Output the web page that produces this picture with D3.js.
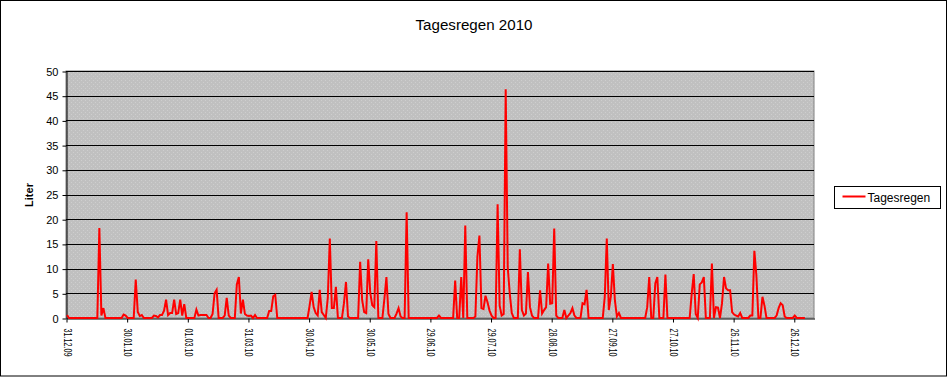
<!DOCTYPE html>
<html>
<head>
<meta charset="utf-8">
<script src="https://cdnjs.cloudflare.com/ajax/libs/d3/7.8.5/d3.min.js"></script>
<style>
  body { margin: 0; background: #fff; }
  svg { display: block; font-family: Arial, "Liberation Sans", sans-serif; }
</style>
</head>
<body>
<svg></svg>
<script>
// Tagesregen in Liter, 31.12.09 und dann Monat fuer Monat
const dec09 = [0.6]
const jan = [0,0,0,0,0,0,0,0,0,0,0,0,0,0,0,18.2,0.5,2.0,0,0,0,0,0,0,0,0,0,0.7,0.5,0,0]
const feb = [0,0,7.8,1.2,0.4,0.6,0,0,0,0,0,0.5,0.4,0.1,0.6,0.6,1.5,3.7,0.6,1.0,1.0,3.7,0.8,1.0,3.7,0.5,2.8,0]
const mar = [0,0,0,0,1.7,0.5,0.6,0.6,0.6,0.6,0,0,0.8,5.0,5.7,0,0,0,0.5,4.1,0.5,0,0,0,6.8,8.3,0.9,3.7,0.8,0.5,0.4]
const apr = [0.5,0,0.6,0,0,0,0,0,0,1.4,1.4,4.4,4.7,0,0,0,0,0,0,0,0,0,0,0,0,0,0,0,0,2.5]
const may = [5.3,2.2,1.0,0.5,5.7,1.2,0.6,0,4.1,16.1,2.0,2.0,6.3,0,0,0,3.0,7.3,0.3,0,0,0,0,0,11.4,3.6,1.2,1.0,11.9,5.1,2.6]
const jun = [2.2,15.6,0,0,0,3.9,8.3,0.8,0,0,0,0.9,2.0,0.3,0,0,21.4,0,0,0,0,0,0,0,0,0,0,0,0,0]
const jul = [0,0,0.5,0,0,0,0,0,0,0,7.6,0,0,8.3,0,18.7,0,0,0,0,0.3,12.4,16.7,2.0,1.8,4.5,3.2,1.5,0.5,0,0]
const aug = [23.0,2.5,0.5,0.8,46.3,10.3,5.0,1.0,0,0,0,13.9,1.6,0.5,0.9,9.3,2.2,0.5,0,0,0,5.6,0.9,1.6,2.2,11.0,2.9,3.0,18.1,0.5,0]
const sep = [0,0,1.6,0,0.5,1.0,2.0,0.5,0,0,0,3.0,2.8,5.7,0,0,0,0,0,0,0,0,4.3,16.1,1.6,4.3,10.9,3.6,0.3,1.0]
const oct = [0,0,0,0,0,0,0,0,0,0,0,0,0,2.2,8.3,0,0,7.0,8.3,0,0,0,8.8,0,0,0,0,0,0,0,0]
const nov = [0,0,0,0,4.9,8.9,0.8,0,6.8,7.2,8.3,0,0,0,11.0,0,2.2,2.1,0,3.0,8.3,6.0,5.6,5.6,1.2,0.7,0.5,0.3,1.0,0]
const dec = [0,0,0,0.5,0.5,13.6,8.6,0,0,4.3,2.5,0,0,0,0,0,0.5,2.0,3.0,2.6,0.3,0,0,0,0,0.5,0,0,0,0,0]

const regen = [].concat(dec09, jan, feb, mar, apr, may, jun, jul, aug, sep, oct, nov, dec)

// Kategorieachse hat 370 Tage (leere Zeilen am Ende), Beschriftung alle 30 Tage
const nCategories = 370
const tickLabels = ['31.12.09','30.01.10','01.03.10','31.03.10','30.04.10','30.05.10','29.06.10',
                    '29.07.10','28.08.10','27.09.10','27.10.10','26.11.10','26.12.10']
const yTicks = [0,5,10,15,20,25,30,35,40,45,50]

const width = 949, height = 378
const plot = {left: 66, right: 814, top: 71, bottom: 318}

const svg = d3.select('svg').attr('width', width).attr('height', height)

// Rahmen vom Diagramm
svg.append('rect')
  .attr('x', 0.5).attr('y', 0.5)
  .attr('width', 946).attr('height', 375.5)
  .attr('fill', '#fff').attr('stroke', '#000')

// Excel-Punktmuster fuer die Zeichnungsflaeche
const pat = svg.append('defs').append('pattern')
  .attr('id', 'dots').attr('width', 4).attr('height', 4)
  .attr('patternUnits', 'userSpaceOnUse')
pat.append('rect').attr('width', 4).attr('height', 4).attr('fill', '#c0c0c0')
pat.append('rect').attr('x', 1).attr('y', 0).attr('width', 1).attr('height', 1).attr('fill', '#cecece')
pat.append('rect').attr('x', 3).attr('y', 2).attr('width', 1).attr('height', 1).attr('fill', '#cecece')

const xScale = d3.scaleLinear().domain([0, nCategories]).range([plot.left, plot.right])
const yScale = d3.scaleLinear().domain([0, 50]).range([plot.bottom, plot.top])

svg.append('rect')
  .attr('x', plot.left).attr('y', plot.top)
  .attr('width', plot.right - plot.left).attr('height', plot.bottom - plot.top)
  .attr('fill', 'url(#dots)').attr('stroke', '#808080')

// Gitternetzlinien
svg.append('g').selectAll('line')
  .data(yTicks.filter(d => d > 0))
  .enter().append('line')
  .attr('x1', plot.left).attr('x2', plot.right)
  .attr('y1', d => Math.round(yScale(d)) + 0.5)
  .attr('y2', d => Math.round(yScale(d)) + 0.5)
  .attr('stroke', '#000')

// y-Achse
const yAxis = d3.axisLeft(yScale).tickValues(yTicks).tickSizeInner(4).tickSizeOuter(0).tickPadding(4)
const yAxisG = svg.append('g')
  .attr('transform', `translate(${plot.left + 0.5},0.5)`)
  .call(yAxis)
yAxisG.select('.domain').attr('stroke', '#000')
yAxisG.selectAll('text').attr('font-size', 11).attr('fill', '#000')
  .attr('font-family', 'Arial, "Liberation Sans", sans-serif')

// x-Achse
const xAxis = d3.axisBottom(xScale)
  .tickValues(d3.range(0, 361, 30))
  .tickFormat((d, i) => tickLabels[i])
  .tickSizeInner(4).tickSizeOuter(0)
const xAxisG = svg.append('g')
  .attr('transform', `translate(0.5,${plot.bottom + 0.5})`)
  .call(xAxis)
xAxisG.select('.domain').attr('stroke', '#000')
xAxisG.selectAll('text')
  .attr('font-size', 10).attr('fill', '#000')
  .attr('font-family', 'Arial, "Liberation Sans", sans-serif')
  .attr('y', 0).attr('x', 0)
  .attr('dy', '0.35em')
  .attr('transform', 'translate(0,10) rotate(90)')
  .attr('text-anchor', 'start')
  .attr('textLength', 28).attr('lengthAdjust', 'spacingAndGlyphs')

// Linie
const line = d3.line()
  .x((d, i) => xScale(i + 0.5))
  .y(d => yScale(d))

svg.append('path')
  .datum(regen)
  .attr('fill', 'none')
  .attr('stroke', '#ff0000')
  .attr('stroke-width', 2)
  .attr('stroke-linejoin', 'miter')
  .attr('d', line)

// Titel
svg.append('text')
  .attr('x', 474).attr('y', 30)
  .attr('text-anchor', 'middle')
  .attr('font-size', 14)
  .attr('textLength', 117).attr('lengthAdjust', 'spacingAndGlyphs')
  .text('Tagesregen 2010')

// Achsentitel
svg.append('text')
  .attr('transform', 'translate(33,195) rotate(-90)')
  .attr('text-anchor', 'middle')
  .attr('font-size', 11).attr('font-weight', 'bold')
  .text('Liter')

// Legende
const legend = svg.append('g').attr('transform', 'translate(834.5,186.5)')
legend.append('rect')
  .attr('width', 106).attr('height', 22)
  .attr('fill', '#fff').attr('stroke', '#000')
legend.append('line')
  .attr('x1', 8).attr('x2', 31).attr('y1', 10).attr('y2', 10)
  .attr('stroke', '#ff0000').attr('stroke-width', 2)
legend.append('text')
  .attr('x', 33).attr('y', 15)
  .attr('font-size', 12)
  .text('Tagesregen')
</script>
</body>
</html>
